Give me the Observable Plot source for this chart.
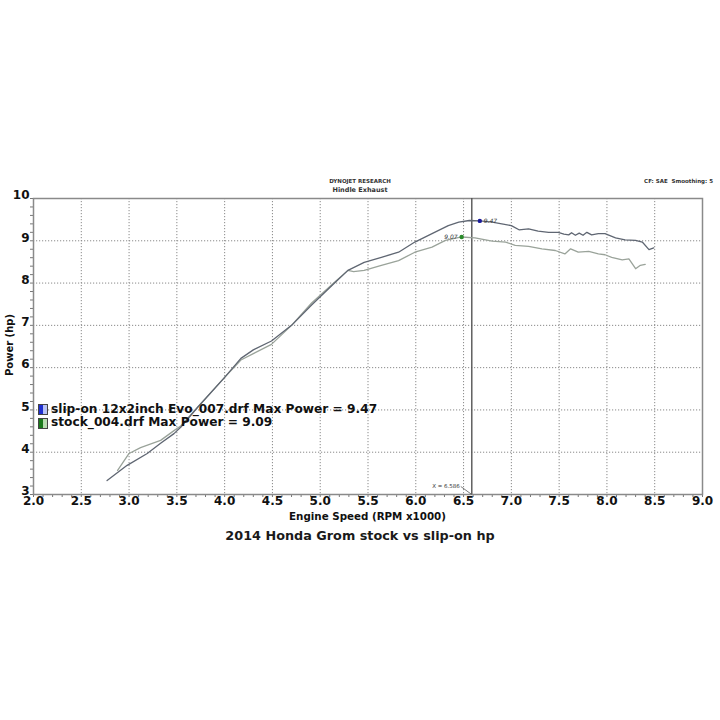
<!DOCTYPE html>
<html>
<head>
<meta charset="utf-8">
<script src="https://cdn.jsdelivr.net/npm/d3@7"></script>
<script src="https://cdn.jsdelivr.net/npm/@observablehq/plot@0.6"></script>
<style>
  body { margin: 0; background: #fff; }
  #wrap { position: relative; width: 720px; height: 720px; font-family: "DejaVu Sans", sans-serif; color: #111; }
  .t { position: absolute; white-space: nowrap; line-height: 1; }
</style>
</head>
<body>
<div id="wrap"></div>
<script>
// ---- data ----
const slipRpm = [2.77,2.98,3.19,3.33,3.47,3.54,3.72,4.00,4.17,4.30,4.49,4.70,4.91,5.15,5.29,5.46,5.64,5.82,5.99,6.17,6.34,6.45,6.56,6.67,6.80,6.90,7.00,7.08,7.18,7.28,7.39,7.49,7.55,7.60,7.63,7.67,7.71,7.75,7.79,7.84,7.91,7.98,8.09,8.19,8.30,8.37,8.44,8.49];
const slipHp  = [3.33,3.69,3.97,4.21,4.44,4.59,5.07,5.77,6.22,6.42,6.63,7.00,7.48,8.00,8.30,8.49,8.61,8.73,8.97,9.17,9.36,9.44,9.48,9.47,9.44,9.40,9.36,9.26,9.28,9.23,9.20,9.20,9.16,9.14,9.19,9.13,9.18,9.13,9.20,9.14,9.17,9.17,9.07,9.02,9.01,8.97,8.79,8.83];
const stockRpm = [2.88,3.00,3.12,3.33,3.47,3.54,3.72,4.00,4.17,4.30,4.49,4.70,4.91,5.15,5.29,5.35,5.46,5.64,5.82,5.99,6.17,6.31,6.48,6.62,6.73,6.80,6.94,7.04,7.18,7.32,7.46,7.56,7.62,7.70,7.81,7.91,7.98,8.05,8.16,8.23,8.30,8.35,8.40];
const stockHp  = [3.57,3.97,4.11,4.28,4.51,4.62,5.07,5.77,6.18,6.33,6.55,7.00,7.53,8.02,8.30,8.27,8.30,8.42,8.53,8.73,8.85,9.01,9.09,9.07,9.02,8.99,8.97,8.89,8.87,8.81,8.77,8.69,8.81,8.73,8.75,8.69,8.67,8.61,8.55,8.57,8.34,8.42,8.44];
const peakRpm = [6.67, 6.48];
const peakHp = [9.47, 9.09];
const peakLabel = ["9.47", "9.07"];
const peakColor = ["#1a1a9a", "#2a8a2a"];
const cursorRpm = [6.586];
const xTicks = [2.0,2.5,3.0,3.5,4.0,4.5,5.0,5.5,6.0,6.5,7.0,7.5,8.0,8.5,9.0];
const yTicks = [3,4,5,6,7,8,9,10];
const legendNames = ["slip-on 12x2inch Evo_007.drf Max Power = 9.47", "stock_004.drf Max Power = 9.09"];

const slip = slipRpm.map((x, i) => ({x, y: slipHp[i]}));
const stock = stockRpm.map((x, i) => ({x, y: stockHp[i]}));
const peaks = peakRpm.map((x, i) => ({x, y: peakHp[i], label: peakLabel[i], c: peakColor[i]}));

const font = '"DejaVu Sans", sans-serif';

const chart = Plot.plot({
  width: 720,
  height: 720,
  marginLeft: 33,
  marginRight: 18,
  marginTop: 198,
  marginBottom: 226,
  style: {fontFamily: font, background: "transparent"},
  x: {domain: [2, 9], label: null},
  y: {domain: [3, 10], label: null},
  marks: [
    Plot.gridX(xTicks.slice(1, -1), {stroke: "#8a8a8a", strokeOpacity: 1, strokeDasharray: "1.2,1.8", strokeWidth: 1}),
    Plot.gridY(yTicks.slice(1, -1), {stroke: "#8a8a8a", strokeOpacity: 1, strokeDasharray: "1.2,1.8", strokeWidth: 1}),
    Plot.axisY(d3.range(3, 10.001, 0.2), {tickSize: 3, text: null, stroke: "#777", label: null}),
    Plot.axisX(d3.range(2, 9.001, 0.1), {tickSize: 3, text: null, stroke: "#777", label: null}),
    Plot.axisY(yTicks, {tickSize: 0, tickPadding: 4, fontSize: 12, fontWeight: "bold", label: null, tickFormat: d => d, fill: "#111", dy: -3}),
    Plot.axisX(xTicks, {tickSize: 0, tickPadding: 2, fontSize: 12, fontWeight: "bold", label: null, tickFormat: d3.format(".1f"), fill: "#111"}),
    Plot.frame({stroke: "#8a8a8a", strokeWidth: 1.5}),
    Plot.ruleX(cursorRpm, {stroke: "#555", strokeWidth: 1.4}),
    Plot.line(stock, {x: "x", y: "y", stroke: "#9aa39a", strokeWidth: 1.3}),
    Plot.line(slip, {x: "x", y: "y", stroke: "#5f6672", strokeWidth: 1.3}),
    Plot.dot(peaks, {x: "x", y: "y", r: 2.2, fill: "c", stroke: null}),
    Plot.text(peaks.slice(0, 1), {x: "x", y: "y", text: "label", dx: 4, textAnchor: "start", fontSize: 6, fontStyle: "italic", fill: "#333"}),
    Plot.text(peaks.slice(1), {x: "x", y: "y", text: "label", dx: -4, textAnchor: "end", fontSize: 6, fontStyle: "italic", fill: "#333"}),
    Plot.text(cursorRpm, {x: d => d, y: () => 3, text: d => "X = " + d.toFixed(3), dx: -12, dy: -8, textAnchor: "end", fontSize: 5.5, fill: "#333"}),
    Plot.link(cursorRpm, {x1: d => d, y1: () => 3, x2: d => d, y2: () => 3, stroke: "#555", strokeWidth: 0.8,
      render: (i, s, v, d, c, next) => { const g = next(i, s, v, d, c); d3.select(g).selectAll("path").attr("d", (_, k) => { const X = s.x(cursorRpm[k]), Y = s.y(3); return `M${X - 11},${Y - 8}L${X},${Y}`; }); return g; }})
  ]
});
chart.style.position = "absolute";
chart.style.left = "0px";
chart.style.top = "0px";
const wrap = document.getElementById("wrap");
wrap.appendChild(chart);

function addText(txt, css) {
  const d = document.createElement("div");
  d.className = "t";
  d.textContent = txt;
  Object.assign(d.style, css);
  wrap.appendChild(d);
  return d;
}
addText("DYNOJET RESEARCH", {left: "0px", width: "720px", textAlign: "center", top: "179px", fontSize: "5.5px", fontWeight: "bold", color: "#333"});
addText("Hindle Exhaust", {left: "0px", width: "720px", textAlign: "center", top: "187px", fontSize: "6.5px", fontWeight: "bold", color: "#333"});
addText("CF: SAE  Smoothing: 5", {right: "7px", top: "179px", fontSize: "5.5px", fontWeight: "bold", color: "#333", whiteSpace: "pre"});
addText("Engine Speed (RPM x1000)", {left: "33px", width: "669px", textAlign: "center", top: "511px", fontSize: "10.3px", fontWeight: "bold"});
addText("2014 Honda Grom stock vs slip-on hp", {left: "0px", width: "720px", textAlign: "center", top: "530px", fontSize: "12.8px", fontWeight: "bold", color: "#1a1a1a"});
addText("Power (hp)", {left: "10px", top: "345px", fontSize: "10px", fontWeight: "bold", transform: "translate(-50%, -50%) rotate(-90deg)"});

// legend
const swatch = [["#1f2fd0", "#b8c2f4"], ["#1a7a1a", "#b8dcb0"]];
legendNames.forEach((name, i) => {
  const s = document.createElement("div");
  Object.assign(s.style, {position: "absolute", left: "38px", top: (404 + i * 13.5) + "px", width: "8px", height: "9px",
    background: `linear-gradient(to right, ${swatch[i][0]} 0 45%, ${swatch[i][1]} 55% 100%)`, border: "1px solid #444"});
  wrap.appendChild(s);
  addText(name, {left: "51px", top: (403.5 + i * 13.5) + "px", fontSize: "12.2px", lineHeight: "11px", fontWeight: "bold", color: "#111"});
});
</script>
</body>
</html>
